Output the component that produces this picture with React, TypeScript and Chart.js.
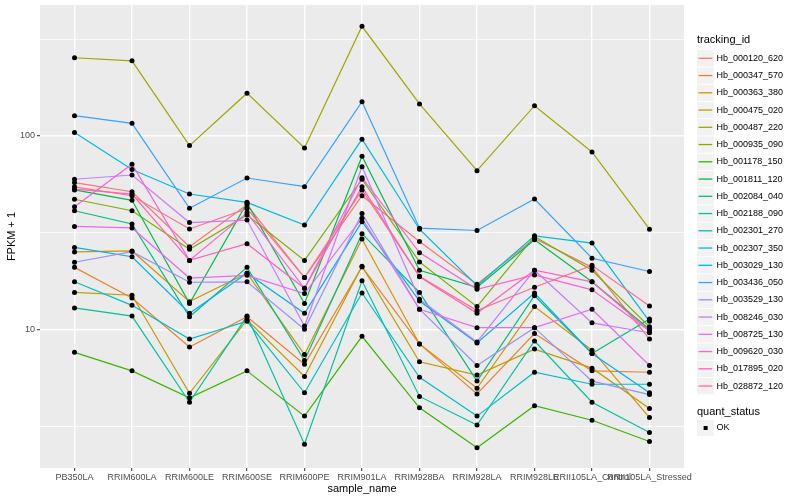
import React, { useEffect, useRef } from "react";
import { Chart, registerables } from "chart.js";

Chart.register(...registerables);

const categories = [
  "PB350LA", "RRIM600LA", "RRIM600LE", "RRIM600SE", "RRIM600PE", "RRIM901LA",
  "RRIM928BA", "RRIM928LA", "RRIM928LE", "RRII105LA_Control", "RRII105LA_Stressed",
];

const trackingIds = [
  "Hb_000120_620", "Hb_000347_570", "Hb_000363_380", "Hb_000475_020", "Hb_000487_220",
  "Hb_000935_090", "Hb_001178_150", "Hb_001811_120", "Hb_002084_040", "Hb_002188_090",
  "Hb_002301_270", "Hb_002307_350", "Hb_003029_130", "Hb_003436_050", "Hb_003529_130",
  "Hb_008246_030", "Hb_008725_130", "Hb_009620_030", "Hb_017895_020", "Hb_028872_120",
];

const seriesColors = [
  "#F8766D", "#EA8331", "#D89000", "#C09B00", "#A3A500", "#7CAE00", "#39B600", "#00BB4E",
  "#00BF7D", "#00C1A3", "#00BFC4", "#00BAE0", "#00B0F6", "#35A2FF", "#9590FF", "#C77CFF",
  "#E76BF3", "#FA62DB", "#FF62BC", "#FF6C91",
];

const hb000120_620 = [57.3, 51.4, 26.7, 44, 18.5, 49, 28.4, 17.1, 29.5, 20.9, 8.9];
const hb000347_570 = [20.9, 14.5, 8.1, 11.6, 6.6, 21, 8.4, 4.63, 9.5, 6.1, 6.0];
const hb000363_380 = [25.1, 25.4, 13.9, 19.5, 7.4, 29.3, 8.4, 4.96, 13.1, 7.8, 3.5];
const hb000475_020 = [15.5, 15.0, 4.67, 11.2, 5.7, 21.2, 6.8, 5.8, 7.9, 6.3, 3.9];
const hb000487_220 = [253, 244, 89, 166, 86.5, 368, 146, 66, 143, 82.5, 32.9];
const hb000935_090 = [47, 41, 25.9, 39, 22.7, 59.6, 22.3, 13.1, 30.2, 20.2, 10.3];
const hb001178_150 = [7.6, 6.1, 4.43, 6.1, 3.56, 9.2, 3.93, 2.44, 4.03, 3.39, 2.63];
const hb001811_120 = [52.5, 46.4, 13.6, 45, 13.6, 78.4, 20.2, 16.5, 29, 17.6, 10];
const hb002084_040 = [41, 35, 11.6, 20.9, 6.9, 31.2, 15.5, 5.4, 14.9, 7.5, 11.3];
const hb002188_090 = [12.9, 11.7, 4.2, 11.7, 2.55, 17.8, 4.5, 3.2, 8.7, 4.2, 2.93];
const hb002301_270 = [17.6, 13.3, 8.9, 11.0, 4.7, 15.4, 5.65, 3.56, 6.0, 5.2, 5.2];
const hb002307_350 = [104, 67, 50, 45.3, 34.6, 96, 32.9, 16.8, 30.4, 27.9, 11.0];
const hb003029_130 = [26.5, 23.7, 12.1, 19.5, 12.1, 36, 14, 8.5, 15.4, 7.5, 4.7];
const hb003436_050 = [127, 116, 42.2, 60.5, 54.6, 150, 33.3, 32.4, 47.1, 23.3, 19.9];
const hb003529_130 = [22.2, 25.2, 17.5, 17.6, 10.0, 39.7, 12.7, 6.5, 10.2, 5.4, 4.6];
const hb008246_030 = [59.6, 62.7, 35.6, 36.7, 10.4, 69.2, 14.3, 8.6, 20.2, 10.8, 9.6];
const hb008725_130 = [34, 33.4, 18.4, 19.0, 15.3, 37.5, 12.7, 10.2, 10.2, 12.7, 6.5];
const hb009620_030 = [43, 71.3, 22.7, 40, 16.3, 60.7, 24.9, 16.1, 19.1, 16, 9.8];
const hb017895_020 = [53, 50, 22.7, 27.7, 16.3, 54.6, 18.7, 12.1, 20.2, 17.6, 9.8];
const hb028872_120 = [54.5, 49, 33, 42, 18.5, 52.5, 18.8, 12.5, 16.5, 21.4, 13.2];

const seriesValues = [
  hb000120_620, hb000347_570, hb000363_380, hb000475_020, hb000487_220,
  hb000935_090, hb001178_150, hb001811_120, hb002084_040, hb002188_090,
  hb002301_270, hb002307_350, hb003029_130, hb003436_050, hb003529_130,
  hb008246_030, hb008725_130, hb009620_030, hb017895_020, hb028872_120,
];

const yMajorTicks = [10, 100];
const yAllTicks = [Math.sqrt(10), 10, Math.sqrt(1000), 100, Math.sqrt(100000)];
const quantStatus = ["OK"];

const FONT = '"Liberation Sans", Arial, Helvetica, sans-serif';

const panelBg = {
  id: "panelBg",
  beforeDraw(chart: any) {
    const { ctx, chartArea } = chart;
    ctx.save();
    ctx.fillStyle = "#FFFFFF";
    ctx.fillRect(0, 0, chart.width, chart.height);
    ctx.fillStyle = "#EBEBEB";
    ctx.fillRect(chartArea.left, chartArea.top, chartArea.right - chartArea.left, chartArea.bottom - chartArea.top);
    ctx.restore();
  },
};

const ggLegend = {
  id: "ggLegend",
  afterDraw(chart: any) {
    const { ctx } = chart;
    ctx.save();
    const x0 = 697;
    const key = 17.25;
    ctx.textBaseline = "middle";
    ctx.textAlign = "left";
    ctx.fillStyle = "#000000";
    ctx.font = `11px ${FONT}`;
    ctx.fillText("tracking_id", x0, 40);
    trackingIds.forEach((name, i) => {
      const cy = 58.3 + key * i;
      ctx.fillStyle = "#F2F2F2";
      ctx.fillRect(x0, cy - key / 2 + 0.5, key - 0.5, key - 1);
      ctx.strokeStyle = seriesColors[i];
      ctx.lineWidth = 1.3;
      ctx.beginPath();
      ctx.moveTo(x0 + 1.5, cy);
      ctx.lineTo(x0 + key - 2, cy);
      ctx.stroke();
      ctx.fillStyle = "#000000";
      ctx.font = `9px ${FONT}`;
      ctx.fillText(name, 716.5, cy);
    });
    ctx.font = `11px ${FONT}`;
    ctx.fillStyle = "#000000";
    ctx.fillText("quant_status", x0, 411.7);
    quantStatus.forEach((s, i) => {
      const cy = 428 + key * i;
      ctx.fillStyle = "#F2F2F2";
      ctx.fillRect(x0, cy - key / 2 + 0.5, key - 0.5, key - 1);
      ctx.fillStyle = "#000000";
      ctx.fillRect(x0 + key / 2 - 2, cy - 2, 4, 4);
      ctx.font = `9px ${FONT}`;
      ctx.fillText(s, 716.5, cy);
    });
    ctx.restore();
  },
};

export default function App() {
  const ref = useRef<HTMLCanvasElement | null>(null);

  useEffect(() => {
    if (!ref.current) return;
    const lineSets = seriesValues.map((vals, i) => ({
      type: "line" as const,
      label: trackingIds[i],
      data: vals.map((v, j) => ({ x: j, y: v })),
      borderColor: seriesColors[i],
      backgroundColor: seriesColors[i],
      borderWidth: 1.2,
      pointRadius: 0,
      tension: 0,
      fill: false,
    })).reverse();
    const pointSet = {
      type: "scatter" as const,
      label: "points",
      data: seriesValues.flatMap((vals) => vals.map((v, j) => ({ x: j, y: v }))),
      backgroundColor: "#000000",
      borderColor: "#000000",
      borderWidth: 0,
      pointRadius: 2.5,
      pointStyle: "circle",
      showLine: false,
    };

    const chart = new Chart(ref.current, {
      type: "line",
      data: { datasets: [pointSet as any, ...lineSets] },
      plugins: [panelBg, ggLegend],
      options: {
        animation: false,
        responsive: false,
        devicePixelRatio: 1,
        layout: { padding: { top: 5, right: 116, bottom: 0, left: 0 } },
        plugins: { legend: { display: false }, tooltip: { enabled: false } },
        scales: {
          x: {
            type: "linear",
            min: -0.6,
            max: categories.length - 1 + 0.6,
            afterBuildTicks: (scale: any) => {
              scale.ticks = categories.map((_, i) => ({ value: i }));
            },
            afterFit: (scale: any) => {
              scale.height = 32;
              scale.paddingLeft = 0;
              scale.paddingRight = 0;
            },
            ticks: {
              autoSkip: false,
              maxRotation: 0,
              minRotation: 0,
              padding: 1,
              color: "#4D4D4D",
              font: { family: FONT, size: 9 },
              callback: (v: any) => categories[Math.round(Number(v))] ?? "",
            },
            grid: {
              color: "#FFFFFF",
              lineWidth: 1.4,
              tickLength: 3,
              tickColor: "#333333",
              tickWidth: 1,
            },
            border: { display: false },
            title: {
              display: true,
              text: "sample_name",
              color: "#000000",
              font: { family: FONT, size: 11 },
              padding: { top: 0, bottom: 4 },
            },
          },
          y: {
            type: "logarithmic",
            min: 1.92,
            max: 474,
            afterBuildTicks: (scale: any) => {
              scale.ticks = yAllTicks.map((v) => ({ value: v }));
            },
            afterFit: (scale: any) => {
              scale.width = 40;
              scale.paddingTop = 0;
              scale.paddingBottom = 0;
            },
            ticks: {
              autoSkip: false,
              padding: 2,
              color: "#4D4D4D",
              font: { family: FONT, size: 9 },
              callback: (v: any) => (yMajorTicks.includes(Number(v)) ? String(v) : ""),
            },
            grid: {
              color: "#FFFFFF",
              lineWidth: (c: any) => (c.tick && yMajorTicks.includes(c.tick.value) ? 1.4 : 0.7),
              tickLength: 3,
              tickColor: (c: any) => (c.tick && yMajorTicks.includes(c.tick.value) ? "#333333" : "rgba(0,0,0,0)"),
              tickWidth: 1,
            },
            border: { display: false },
            title: {
              display: true,
              text: "FPKM + 1",
              color: "#000000",
              font: { family: FONT, size: 11 },
              padding: { top: 5, bottom: 0 },
            },
          },
        },
      } as any,
    });
    return () => chart.destroy();
  }, []);

  return (
    <div style={{ position: "absolute", left: 0, top: 0, width: 800, height: 500 }}>
      <canvas ref={ref} width={800} height={500} style={{ width: 800, height: 500, display: "block" }} />
    </div>
  );
}
